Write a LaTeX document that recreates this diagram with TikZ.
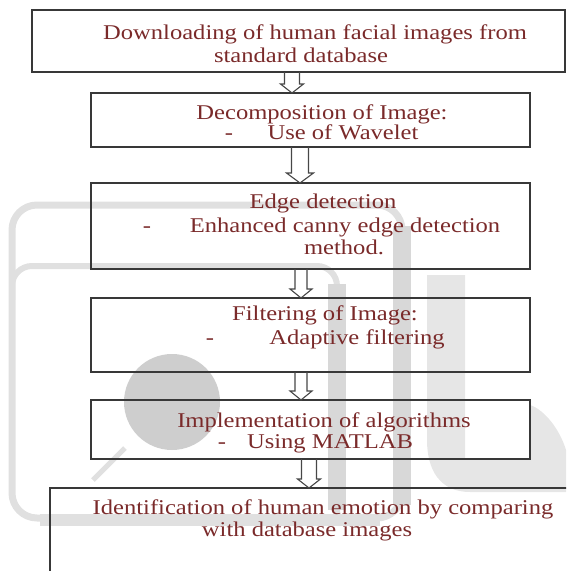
\documentclass[tikz,border=0pt]{standalone}
\usepackage{fontspec}
\setmainfont[FakeStretch=1.17]{Liberation Serif}
\usetikzlibrary{calc}
\definecolor{txt}{RGB}{122,42,42}
\definecolor{wmA}{RGB}{224,224,224}
\definecolor{wmB}{RGB}{216,216,216}
\definecolor{wmC}{RGB}{230,230,230}
\definecolor{wmD}{RGB}{206,206,206}
\tikzset{
  box/.style={draw=black!78, line width=1.3pt, rectangle, inner sep=0pt, outer sep=0pt},
  lbl/.style={text=txt, anchor=base, inner sep=0pt, font=\fontsize{21}{20}\selectfont},
  arrowline/.style={draw=black!72, line width=1.1pt, line join=miter},
}
\newcommand\hollowarrow[6]{%
  \draw[arrowline] let \p1=(#1.south), \p2=(#2.north) in
    ({#3pt-#4pt},\y1) -- ({#3pt-#4pt},{\y2+#6pt}) -- ({#3pt-#5pt},{\y2+#6pt}) --
    ({#3pt},\y2) -- ({#3pt+#5pt},{\y2+#6pt}) -- ({#3pt+#4pt},{\y2+#6pt}) -- ({#3pt+#4pt},\y1);}
\begin{document}
\begin{tikzpicture}[x=1pt,y=-1pt]
\useasboundingbox (0,0) rectangle (566,571);
\clip (0,0) rectangle (566,571);
% watermark
\begin{scope}
  \fill[wmC] (427,275) -- (465,275) -- (465,459) -- (530,459) -- (530,405)
     .. controls (545,410) and (560,430) .. (566,450) -- (566,492) -- (470,492)
     .. controls (440,492) and (427,470) .. (427,440) -- cycle;
  \draw[wmA, line width=7pt, rounded corners=25pt] (12,205) rectangle (402,518);
  \draw[wmB, line width=18pt] (402,226) -- (402,505);
  \draw[wmA, line width=6pt, rounded corners=20pt] (12,300) -- (12,266) -- (337,266) -- (337,518);
  \draw[wmB, line width=18pt] (337,284) -- (337,510);
  \draw[wmA, line width=12pt] (40,520) -- (380,520);
  \fill[wmD] (172,402) circle (48pt);
  \draw[wmA, line width=5pt] (93,480) -- (125,448);
\end{scope}
% boxes
\node[box, minimum width=533pt, minimum height=62pt] (b1) at (298.5,41) {};
\node[box, minimum width=439pt, minimum height=54pt] (b2) at (310.5,120) {};
\node[box, minimum width=439pt, minimum height=86pt] (b3) at (310.5,226) {};
\node[box, minimum width=439pt, minimum height=74pt] (b4) at (310.5,335) {};
\node[box, minimum width=439pt, minimum height=59pt] (b5) at (310.5,429.5) {};
\node[box, minimum width=550pt, minimum height=112pt] (b6) at (325,544) {};
% texts
\node[lbl] (t1a) at (315,39) {Downloading of human facial images from};
\node[lbl] (t1b) at (301,62) {standard database};
\node[lbl] (t2a) at (322,119) {Decomposition of Image:};
\node[lbl] (t2d) at (229,139) {-};
\node[lbl] (t2b) at (343,139) {Use of Wavelet};
\node[lbl] (t3a) at (323,208) {Edge detection};
\node[lbl] (t3d) at (147,232) {-};
\node[lbl] (t3b) at (345,232) {Enhanced canny edge detection};
\node[lbl] (t3c) at (344,254) {method.};
\node[lbl] (t4a) at (325,320) {Filtering of Image:};
\node[lbl] (t4d) at (210,344) {-};
\node[lbl] (t4b) at (357,344) {Adaptive filtering};
\node[lbl] (t5a) at (324,427) {Implementation of algorithms};
\node[lbl] (t5d) at (222,448) {-};
\node[lbl] (t5b) at (330,448) {Using MATLAB};
\node[lbl] (t6a) at (323,514) {Identification of human emotion by comparing};
\node[lbl] (t6b) at (307,536) {with database images};
% arrows
\hollowarrow{b1}{b2}{292}{7.5}{11.5}{9}
\hollowarrow{b2}{b3}{300}{8.5}{13.5}{10}
\hollowarrow{b3}{b4}{301}{6}{11}{9}
\hollowarrow{b4}{b5}{301}{6}{11}{9}
\hollowarrow{b5}{b6}{309}{7.5}{11.5}{9}
\end{tikzpicture}
\end{document}
